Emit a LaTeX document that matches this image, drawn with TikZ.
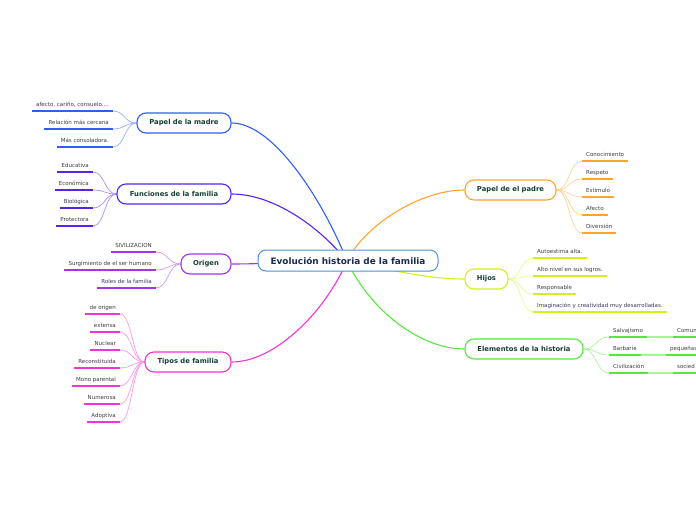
\documentclass[tikz,border=0pt]{standalone}
\usepackage{fontspec}
\setmainfont{DejaVu Sans}
\usetikzlibrary{backgrounds}
\definecolor{cmadre}{HTML}{2F5FF2}
\definecolor{cfunc}{HTML}{5524E8}
\definecolor{corig}{HTML}{A233EE}
\definecolor{ctipos}{HTML}{F531D8}
\definecolor{cpadre}{HTML}{FFA52E}
\definecolor{chijos}{HTML}{D4F01C}
\definecolor{celem}{HTML}{55E83A}
\definecolor{ccenter}{HTML}{4A92DC}
\definecolor{btext}{HTML}{163F35}
\definecolor{ctext}{HTML}{1C2A4E}
\definecolor{ltext}{HTML}{3C3C3C}
\tikzset{
  branch/.style={draw=#1, fill=white, line width=1.1pt, rounded corners=9pt,
    minimum height=20pt, inner xsep=3pt, inner ysep=0pt,
    font=\bfseries\fontsize{6.8}{8}\selectfont, text=btext},
  centerbox/.style={draw=ccenter, fill=white, line width=1pt, rounded corners=8pt,
    minimum height=21pt, minimum width=180pt, inner ysep=0pt,
    font=\bfseries\fontsize{8.9}{10}\selectfont, text=ctext},
  leaf/.style={font=\fontsize{5.5}{6}\selectfont, text=ltext, inner xsep=4pt,
    inner ysep=3pt, text height=4pt, text depth=1.2pt,
    append after command={(\tikzlastnode.south west) edge[draw=#1, line width=1.5pt] (\tikzlastnode.south east)}},
  leafL/.style={leaf=#1, anchor=south east},
  leafR/.style={leaf=#1, anchor=south west},
  lconn/.style={draw=#1!50!white, line width=0.7pt},
  mconn/.style={draw=#1, line width=1.1pt},
}
\begin{document}
\begin{tikzpicture}[x=1pt, y=-1pt]
\useasboundingbox (0,0) rectangle (696,520);
\clip (0,0) rectangle (696,520);
\coordinate (c) at (347,261);
% central and branch nodes
\node[centerbox] (center) at (348,260.5) {Evolución historia de la familia};
\node[branch=cmadre, minimum width=94pt] (madre) at (184,123) {Papel de la madre};
\node[branch=cfunc, minimum width=114pt] (func) at (174,194) {Funciones de la familia};
\node[branch=corig, minimum width=50pt] (orig) at (206,264) {Origen};
\node[branch=ctipos, minimum width=86pt] (tipos) at (188,362) {Tipos de familia};
\node[branch=cpadre, minimum width=91pt] (padre) at (510.5,190) {Papel de el padre};
\node[branch=chijos, minimum width=43pt] (hijos) at (486.5,279) {Hijos};
\node[branch=celem, minimum width=118pt] (elem) at (524,349) {Elementos de la historia};
% leaves: madre
\node[leafL=cmadre] (m1) at (113,111) {afecto, cariño, consuelo....};
\node[leafL=cmadre] (m2) at (113,129) {Relación más cercana};
\node[leafL=cmadre] (m3) at (113,147) {Más consoladora.};
% leaves: funciones
\node[leafL=cfunc] (f1) at (93,172) {Educativa};
\node[leafL=cfunc] (f2) at (93,190) {Económica};
\node[leafL=cfunc] (f3) at (93,208) {Biológica};
\node[leafL=cfunc] (f4) at (93,226) {Protectora};
% leaves: origen
\node[leafL=corig] (o1) at (156,252) {SIVILIZACION};
\node[leafL=corig] (o2) at (156,270) {Surgimiento de el ser humano};
\node[leafL=corig] (o3) at (156,288) {Roles de la familia};
% leaves: tipos
\node[leafL=ctipos] (t1) at (120,314) {de origen};
\node[leafL=ctipos] (t2) at (120,332) {extensa};
\node[leafL=ctipos] (t3) at (120,350) {Nuclear};
\node[leafL=ctipos] (t4) at (120,368) {Reconstituida};
\node[leafL=ctipos] (t5) at (120,386) {Mono parental};
\node[leafL=ctipos] (t6) at (120,404) {Numerosa};
\node[leafL=ctipos] (t7) at (120,422) {Adoptiva};
% leaves: padre
\node[leafR=cpadre] (p1) at (582,161) {Conocimiento};
\node[leafR=cpadre] (p2) at (582,179) {Respeto};
\node[leafR=cpadre] (p3) at (582,197) {Estímulo};
\node[leafR=cpadre] (p4) at (582,215) {Afecto};
\node[leafR=cpadre] (p5) at (582,233) {Diversión};
% leaves: hijos
\node[leafR=chijos] (h1) at (533,258) {Autoestima alta.};
\node[leafR=chijos] (h2) at (533,276) {Alto nivel en sus logros.};
\node[leafR=chijos] (h3) at (533,294) {Responsable};
\node[leafR=chijos] (h4) at (533,312) {Imaginación y creatividad muy desarrolladas.};
% leaves: elementos
\node[leafR=celem] (e1) at (609,337) {Salvajismo};
\node[leafR=celem] (e2) at (609,355) {Barbarie};
\node[leafR=celem] (e3) at (609,373) {Civilización};
\node[leafR=celem, text width=34pt, align=left] (e1b) at (673,337) {Comun};
\node[leafR=celem, text width=34pt, align=left] (e2b) at (666,355) {pequeñas};
\node[leafR=celem, text width=34pt, align=left] (e3b) at (673,373) {socied};
\begin{pgfonlayer}{background}
% main connectors
\draw[mconn=cmadre] (madre.east) .. controls (275,123) and (325,205) .. (c);
\draw[mconn=cfunc] (func.east) .. controls (270,194) and (315,222) .. (c);
\draw[mconn=corig] (orig.east) .. controls (260,264) and (300,262) .. (c);
\draw[mconn=ctipos] (tipos.east) .. controls (275,362) and (325,312) .. (c);
\draw[mconn=cpadre] (padre.west) .. controls (420,190) and (365,225) .. (c);
\draw[mconn=chijos] (hijos.west) .. controls (430,279) and (400,272) .. (c);
\draw[mconn=celem] (elem.west) .. controls (420,349) and (370,310) .. (c);
% leaf connectors
\foreach \n in {m1,m2,m3}
  \draw[lconn=cmadre] (madre.west) .. controls +(-12,0) and +(12,0) .. (\n.south east);
\foreach \n in {f1,f2,f3,f4}
  \draw[lconn=cfunc] (func.west) .. controls +(-12,0) and +(12,0) .. (\n.south east);
\foreach \n in {o1,o2,o3}
  \draw[lconn=corig] (orig.west) .. controls +(-12,0) and +(12,0) .. (\n.south east);
\foreach \n in {t1,t2,t3,t4,t5,t6,t7}
  \draw[lconn=ctipos] (tipos.west) .. controls +(-12,0) and +(12,0) .. (\n.south east);
\foreach \n in {p1,p2,p3,p4,p5}
  \draw[lconn=cpadre] (padre.east) .. controls +(13,0) and +(-13,0) .. (\n.south west);
\foreach \n in {h1,h2,h3,h4}
  \draw[lconn=chijos] (hijos.east) .. controls +(12,0) and +(-12,0) .. (\n.south west);
\foreach \n in {e1,e2,e3}
  \draw[lconn=celem] (elem.east) .. controls +(13,0) and +(-13,0) .. (\n.south west);
\draw[lconn=celem, line width=1.3pt] (e1.south east) -- (e1b.south west);
\draw[lconn=celem, line width=1.3pt] (e2.south east) -- (e2b.south west);
\draw[lconn=celem, line width=1.3pt] (e3.south east) -- (e3b.south west);
\end{pgfonlayer}
\end{tikzpicture}
\end{document}
